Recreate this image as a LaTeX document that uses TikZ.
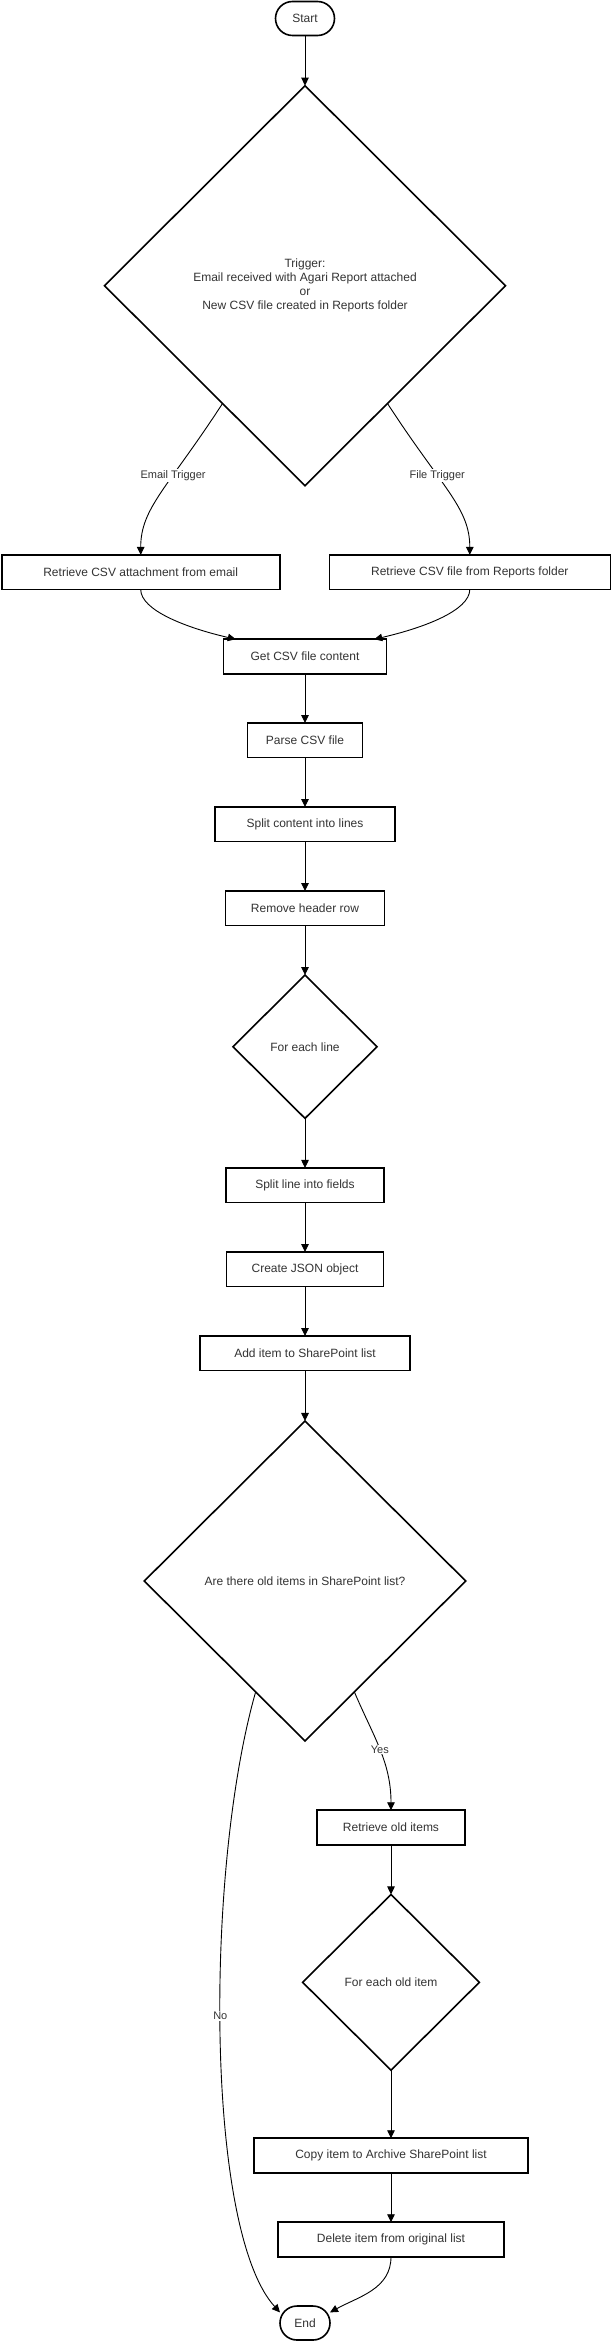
\documentclass[tikz,border=0pt]{standalone}
\usepackage{fontspec}
\setmainfont{Liberation Sans}
\usepackage{xcolor}
\usepackage{tikz}
\usetikzlibrary{arrows.meta,shapes.geometric}

\definecolor{inkgray}{HTML}{333333}

\begin{document}
\begin{tikzpicture}[x=1pt, y=-1pt,
        every node/.style={font=\fontsize{12}{14}\selectfont, text=inkgray},
        stepbox/.style={draw=black, fill=white, line width=1.6pt, rectangle,
            minimum height=34.5pt, inner sep=0pt, outer sep=0pt},
        choice/.style={draw=black, fill=white, line width=1.6pt, diamond,
            inner sep=0pt, outer sep=0pt, align=center},
        terminal/.style={draw=black, fill=white, line width=1.6pt, rectangle,
            rounded corners=17pt, minimum height=34pt, inner sep=0pt, outer sep=0pt},
        flow/.style={draw=black, line width=0.9pt, -{Triangle[length=8pt,width=7.5pt]}},
        edgelabel/.style={fill=white, font=\fontsize{11}{13}\selectfont, inner sep=1pt}]

        % The page
        \useasboundingbox (0,0) rectangle (611,2341);

        % Start and the trigger
        \node[terminal, minimum width=59pt] (start) at (305,18.5) {Start};
        \node[choice, minimum width=401pt, minimum height=400pt] (trigger) at (305,285.7)
            {Trigger:\\Email received with Agari Report attached\\or\\New CSV file created in Reports folder};

        % The two ways in
        \node[stepbox, minimum width=278pt] (fromemail) at (140.7,572.2) {Retrieve CSV attachment from email};
        \node[stepbox, minimum width=281pt] (fromfolder) at (469.8,572.2) {Retrieve CSV file from Reports folder};

        % The CSV steps
        \node[stepbox, minimum width=163pt] (getcsv) at (305,656.5) {Get CSV file content};
        \node[stepbox, minimum width=115pt] (parse) at (305,740.3) {Parse CSV file};
        \node[stepbox, minimum width=180pt] (splitlines) at (305,824.3) {Split content into lines};
        \node[stepbox, minimum width=159pt] (removehdr) at (305,908.3) {Remove header row};

        % The first loop
        \node[choice, minimum width=144pt, minimum height=143.3pt] (eachline) at (305,1046.7) {For each line};
        \node[stepbox, minimum width=158pt] (splitfields) at (305,1185.2) {Split line into fields};
        \node[stepbox, minimum width=157pt] (json) at (305,1269.3) {Create JSON object};
        \node[stepbox, minimum width=210pt] (additem) at (305,1353.3) {Add item to SharePoint list};

        % The old items
        \node[choice, minimum width=321.4pt, minimum height=320pt] (olditems) at (305,1581) {Are there old items in SharePoint list?};
        \node[stepbox, minimum width=148.3pt] (retrieve) at (391,1827.5) {Retrieve old items};
        \node[choice, minimum width=176.7pt, minimum height=175.7pt] (eachold) at (391,1982.3) {For each old item};
        \node[stepbox, minimum width=274pt] (copyitem) at (391,2155.5) {Copy item to Archive SharePoint list};
        \node[stepbox, minimum width=226pt] (deleteitem) at (391,2239.5) {Delete item from original list};

        % The end
        \node[terminal, minimum width=50pt] (end) at (305,2323) {End};

        % The straight edges
        \draw[flow] (start) -- (trigger);
        \draw[flow] (getcsv) -- (parse);
        \draw[flow] (parse) -- (splitlines);
        \draw[flow] (splitlines) -- (removehdr);
        \draw[flow] (removehdr) -- (eachline);
        \draw[flow] (eachline) -- (splitfields);
        \draw[flow] (splitfields) -- (json);
        \draw[flow] (json) -- (additem);
        \draw[flow] (additem) -- (olditems);
        \draw[flow] (retrieve) -- (eachold);
        \draw[flow] (eachold) -- (copyitem);
        \draw[flow] (copyitem) -- (deleteitem);

        % The trigger edges
        \draw[flow] (trigger.-125) to[out=-123, in=90, out looseness=1.5, in looseness=0.7]
            node[edgelabel, pos=0.37] {Email Trigger} (fromemail.north);
        \draw[flow] (trigger.-55) to[out=-57, in=90, out looseness=1.5, in looseness=0.7]
            node[edgelabel, pos=0.37] {File Trigger} (fromfolder.north);

        % Both ways meet again
        \draw[flow] (fromemail.south) to[out=-90, in=167, out looseness=0.5, in looseness=1.2] (getcsv.166);
        \draw[flow] (fromfolder.south) to[out=-90, in=13, out looseness=0.5, in looseness=1.2] (getcsv.14);

        % Yes and no
        \draw[flow] (olditems.-66) to[out=-67, in=90] node[edgelabel, pos=0.5] {Yes} (retrieve.north);
        \draw[flow] (olditems.-114) .. controls (205,1870) and (205,2230) ..
            node[edgelabel, pos=0.47] {No} (end.157);
        \draw[flow] (deleteitem.south) to[out=-90, in=29] (end.23);

\end{tikzpicture}
\end{document}
